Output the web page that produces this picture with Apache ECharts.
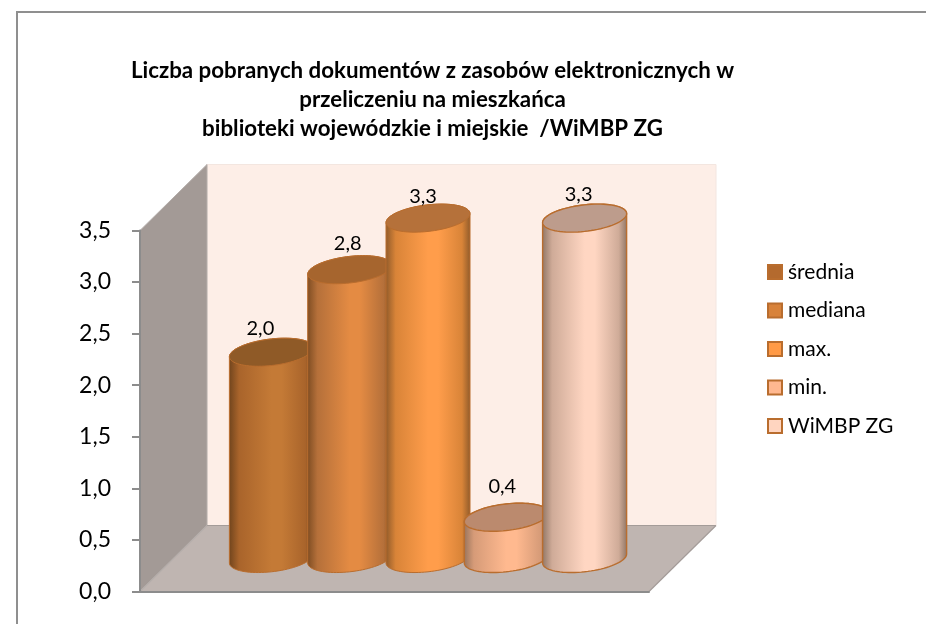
<!DOCTYPE html>
<html>
<head>
<meta charset="utf-8">
<style>html,body{margin:0;padding:0;background:#fff}#c{width:926px;height:624px}</style>
<script src="https://cdn.jsdelivr.net/npm/echarts@6/dist/echarts.min.js"></script>
</head>
<body>
<div id="c"></div>
<script>
// ---- data ----
const titleLines = [
  'Liczba pobranych dokumentów z zasobów elektronicznych w',
  'przeliczeniu na mieszkańca',
  'biblioteki wojewódzkie i miejskie  /WiMBP ZG'
];
const seriesNames = ['średnia', 'mediana', 'max.', 'min.', 'WiMBP ZG'];
const seriesValues = [2.0, 2.8, 3.3, 0.4, 3.3];
const yTicks = { min: 0, max: 3.5, step: 0.5 };

// ---- styles ----
const bodyColors = ['#c47a36', '#e48b43', '#ff9d4b', '#ffb98f', '#ffd6c2'];
const edgeDark   = ['#70441d', '#7d4c22', '#8f5a2a', '#96735c', '#8f7564'];
const sideMid    = ['#a9642b', '#b5703a', '#d98438', '#d69b78', '#cfab98'];
const topColors  = ['#8f5a27', '#a6652e', '#b5713a', '#bb8a6e', '#bd9c8c'];
const legendFill = ['#b46a2e', '#d8823a', '#ff9a46', '#ffb890', '#ffd5c0'];
const strokeCol  = '#b96d2e';
const labelShiftX = [-11, -2, -5, -4, -6];
const labelShiftY = [-24, -26, -22, -31, -24];
const FONT = 'Lato, "Open Sans", sans-serif';

// ---- 3D layout ----
const depth = { x: 67, y: -66 };
const cyl = { a: 42, b: 13.3, s: 4.5 };
const X_MIN = -1.25, X_MAX = 5.25;

function rimPoints(cx, cy, from, to, n) {
  const pts = [];
  for (let k = 0; k <= n; k++) {
    const t = from + (to - from) * k / n;
    pts.push([cx + cyl.a * Math.cos(t), cy - cyl.s * Math.cos(t) + cyl.b * Math.sin(t)]);
  }
  return pts;
}

function renderWalls(params, api) {
  const fl = api.coord([X_MIN, 0]), fr = api.coord([X_MAX, 0]), tl = api.coord([X_MIN, yTicks.max]);
  const bl = [fl[0] + depth.x, fl[1] + depth.y], br = [fr[0] + depth.x, fr[1] + depth.y];
  const btl = [tl[0] + depth.x, tl[1] + depth.y], btr = [br[0], btl[1]];
  const poly = (points, fill, stroke) => ({
    type: 'polygon', shape: { points },
    style: { fill, stroke: stroke || 'none', lineWidth: stroke ? 1 : 0 }
  });
  return { type: 'group', children: [
    poly([bl, br, btr, btl], '#fdeee7', '#f3e6e0'),
    poly([fl, tl, btl, bl], '#a39a96', '#b5aeab'),
    poly([fl, bl, br, fr], '#bfb5b1'),
    { type: 'line', shape: { x1: bl[0], y1: bl[1], x2: br[0], y2: br[1] }, style: { stroke: '#a49c99', lineWidth: 1.2 } },
    { type: 'line', shape: { x1: br[0], y1: br[1], x2: fr[0], y2: fr[1] }, style: { stroke: '#a49c99', lineWidth: 1.2 } },
    { type: 'line', shape: { x1: fl[0], y1: fl[1], x2: bl[0], y2: bl[1] }, style: { stroke: '#b5aeab', lineWidth: 1.2 } }
  ] };
}

function renderCylinder(params, api) {
  const i = api.value(0), v = api.value(1);
  const base = api.coord([i, 0]), top = api.coord([i, v]);
  const cx = base[0] + depth.x / 2;
  const by = base[1] + depth.y / 2;
  const ty = top[1] + depth.y / 2;
  const bottomRim = rimPoints(cx, by, Math.PI, 0, 40);  // left -> right through the front
  const upperRim = rimPoints(cx, ty, 0, -Math.PI, 40);  // right -> left through the back
  const body = bottomRim.concat(upperRim);
  const ring = rimPoints(cx, ty, 0, Math.PI * 2, 80);
  const gradient = new echarts.graphic.LinearGradient(0, 0, 1, 0, [
    { offset: 0, color: edgeDark[i] },
    { offset: 0.12, color: sideMid[i] },
    { offset: 0.5, color: bodyColors[i] },
    { offset: 0.62, color: bodyColors[i] },
    { offset: 0.9, color: sideMid[i] },
    { offset: 1, color: edgeDark[i] }
  ]);
  return { type: 'group', children: [
    { type: 'polygon', shape: { points: body }, style: { fill: gradient, stroke: strokeCol, lineWidth: i < 3 ? 1 : 1.4 } },
    { type: 'polygon', shape: { points: ring }, style: { fill: topColors[i], stroke: strokeCol, lineWidth: i < 3 ? 1 : 1.4 } },
    { type: 'text', style: {
        x: cx + labelShiftX[i], y: ty + labelShiftY[i],
        text: String(v.toFixed(1)).replace('.', ','),
        font: '20px ' + FONT, fill: '#000', align: 'center', verticalAlign: 'middle'
      }, z2: 10 }
  ] };
}

const cylinderSeries = seriesNames.map((name, i) => ({
  name, type: 'custom', renderItem: renderCylinder, silent: true, z: 3 + i,
  encode: { x: 0, y: 1 },
  data: [[i, seriesValues[i]]],
  itemStyle: { color: legendFill[i], borderColor: strokeCol, borderWidth: 1.5 }
}));

const chart = echarts.init(document.getElementById('c'), null, { renderer: 'canvas' });
chart.setOption({
  animation: false,
  backgroundColor: '#fff',
  title: {
    text: titleLines.join('\n'), left: 427.5, top: 51, textAlign: 'center',
    textStyle: { fontFamily: FONT, fontWeight: 'bold', fontSize: 22.3, lineHeight: 29, color: '#000' }
  },
  legend: {
    data: seriesNames, orient: 'vertical', left: 767, top: 261.5, padding: 0,
    icon: 'rect', itemWidth: 14, itemHeight: 14, itemGap: 17.5,
    selectedMode: false,
    textStyle: { fontFamily: FONT, fontSize: 21, color: '#000', padding: [0, 0, 0, 1] }
  },
  grid: { left: 140, top: 230.5, width: 509, height: 361, containLabel: false },
  xAxis: {
    type: 'value', min: X_MIN, max: X_MAX, z: 20,
    axisLine: { show: true, onZero: false, lineStyle: { color: '#8c8c8c', width: 2 } },
    axisTick: { show: false }, axisLabel: { show: false }, splitLine: { show: false }
  },
  yAxis: {
    type: 'value', min: yTicks.min, max: yTicks.max, interval: yTicks.step, z: 20,
    axisLine: { show: true, onZero: false, lineStyle: { color: '#8c8c8c', width: 2 } },
    axisTick: { show: true, length: 8, lineStyle: { color: '#8c8c8c', width: 2 } },
    axisLabel: { margin: 29, color: '#000', fontFamily: FONT, fontSize: 23, formatter: v => v.toFixed(1).replace('.', ',') },
    splitLine: { show: false }
  },
  graphic: [{
    type: 'rect', silent: true, z: -10,
    shape: { x: 17, y: 12, width: 940, height: 640 },
    style: { fill: 'none', stroke: '#8f8f8f', lineWidth: 2 }
  }],
  series: [{
    type: 'custom', name: 'walls', renderItem: renderWalls, silent: true, z: 1,
    clip: false, data: [[0, 0]]
  }].concat(cylinderSeries)
});
</script>
</body>
</html>
